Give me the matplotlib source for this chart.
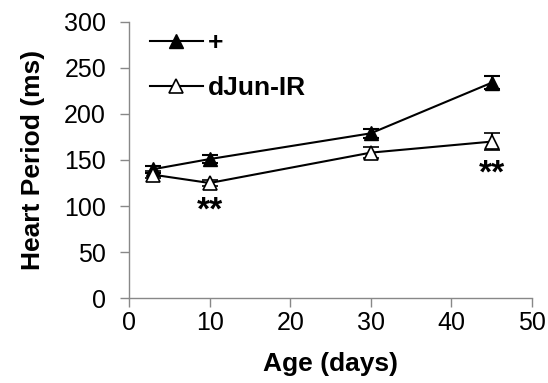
import matplotlib
matplotlib.use("Agg")
import matplotlib.pyplot as plt
from matplotlib.lines import Line2D

plt.rcParams['font.family'] = ['Liberation Sans', 'DejaVu Sans']

# Data
age = [3, 10, 30, 45]
control = [140, 151, 179, 234]
control_err = [4, 4, 5, 7]
djun = [134, 125, 158, 170]
djun_err = [4, 3, 6, 9]
star_x = [10, 45]
star_y = [94, 135]
legend_labels = ['+', 'dJun-IR']

fig = plt.figure(figsize=(5.48, 3.83), dpi=100)
ax = fig.add_axes([0.2354, 0.2219, 0.7354, 0.7207])

ax.errorbar(age, control, yerr=control_err, color='black', lw=1.5,
            marker='^', ms=10, mfc='black', mec='black', capsize=6,
            capthick=1.5, elinewidth=1.5, zorder=3)
ax.errorbar(age, djun, yerr=djun_err, color='black', lw=1.5,
            marker='^', ms=10, mfc='white', mec='black', mew=1.2, capsize=6,
            capthick=1.5, elinewidth=1.5, zorder=3)

for x, y in zip(star_x, star_y):
    ax.text(x, y, '**', ha='center', va='center', fontsize=24, fontweight='bold')

ax.set_xlim(0, 50)
ax.set_ylim(0, 300)
ax.set_xticks(range(0, 51, 10))
ax.set_yticks(range(0, 301, 50))
ax.spines['top'].set_visible(False)
ax.spines['right'].set_visible(False)
for s in ['left', 'bottom']:
    ax.spines[s].set_color('#888888')
    ax.spines[s].set_linewidth(1.0)
ax.tick_params(axis='both', colors='#888888', labelcolor='black',
               labelsize=18, length=6.5, width=1.0, direction='out')
ax.tick_params(axis='y', pad=10)
ax.tick_params(axis='x', pad=3)
ax.set_xlabel('Age (days)', fontsize=19, fontweight='bold', labelpad=12)
ax.set_ylabel('Heart Period (ms)', fontsize=19, fontweight='bold', labelpad=14)

handles = [
    Line2D([], [], color='black', lw=1.5, marker='^', ms=10, mfc='black', mec='black'),
    Line2D([], [], color='black', lw=1.5, marker='^', ms=10, mfc='white', mec='black', mew=1.2),
]
ax.legend(handles, legend_labels, loc='upper left', bbox_to_anchor=(0.052, 0.967),
          borderaxespad=0, borderpad=0, frameon=False,
          prop={'size': 19, 'weight': 'bold'}, handlelength=2.0,
          handletextpad=0.2, labelspacing=0.8)

fig.savefig('out.png', dpi=100)
